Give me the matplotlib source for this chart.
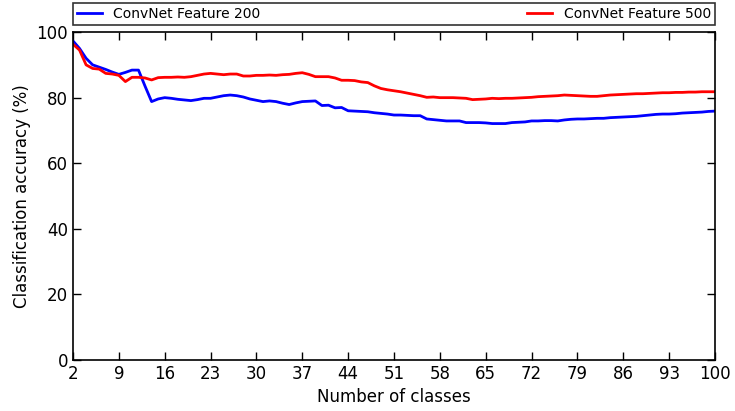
import matplotlib
matplotlib.use("Agg")
from matplotlib import pyplot as plt
import numpy as np

classes = list(range(2, 101))

# ConvNet Feature 200 accuracy (%)
acc_200 = [97.3, 95.0, 92.0, 90.0, 89.3, 88.6, 87.8, 87.1, 87.7, 88.4,
           88.4, 83.5, 78.8, 79.6, 80.0, 79.8, 79.5, 79.3, 79.1, 79.4,
           79.8, 79.8, 80.2, 80.6, 80.8, 80.6, 80.2, 79.6, 79.2, 78.8,
           79.0, 78.8, 78.3, 77.9, 78.4, 78.8, 78.9, 79.0, 77.6, 77.7,
           76.9, 77.0, 76.0, 75.9, 75.8, 75.7, 75.4, 75.2, 75.0, 74.7,
           74.7, 74.6, 74.5, 74.5, 73.5, 73.3, 73.1, 72.9, 72.9, 72.9,
           72.4, 72.4, 72.4, 72.3, 72.1, 72.1, 72.1, 72.4, 72.5, 72.6,
           72.9, 72.9, 73.0, 73.0, 72.9, 73.2, 73.4, 73.5, 73.5, 73.6,
           73.7, 73.7, 73.9, 74.0, 74.1, 74.2, 74.3, 74.5, 74.7, 74.9,
           75.0, 75.0, 75.1, 75.3, 75.4, 75.5, 75.6, 75.8, 75.9]

# ConvNet Feature 500 accuracy (%)
acc_500 = [96.3, 94.5, 90.0, 88.9, 88.7, 87.4, 87.2, 86.8, 84.9, 86.2,
           86.2, 86.0, 85.4, 86.1, 86.2, 86.2, 86.3, 86.2, 86.4, 86.8,
           87.2, 87.4, 87.2, 87.0, 87.2, 87.2, 86.6, 86.6, 86.8, 86.8,
           86.9, 86.8, 87.0, 87.1, 87.4, 87.6, 87.1, 86.4, 86.4, 86.4,
           86.0, 85.3, 85.3, 85.2, 84.8, 84.6, 83.6, 82.8, 82.4, 82.1,
           81.8, 81.4, 81.0, 80.6, 80.1, 80.2, 80.0, 80.0, 80.0, 79.9,
           79.8, 79.4, 79.5, 79.6, 79.8, 79.7, 79.8, 79.8, 79.9, 80.0,
           80.1, 80.3, 80.4, 80.5, 80.6, 80.8, 80.7, 80.6, 80.5, 80.4,
           80.4, 80.6, 80.8, 80.9, 81.0, 81.1, 81.2, 81.2, 81.3, 81.4,
           81.5, 81.5, 81.6, 81.6, 81.7, 81.7, 81.8, 81.8, 81.8]

x_ticks = list(range(2, 101, 7))

plt.rcParams['xtick.direction'] = 'in'
plt.rcParams['ytick.direction'] = 'in'
plt.rcParams['xtick.top'] = True
plt.rcParams['ytick.right'] = True

fig = plt.figure(figsize=(7.35, 4.11), dpi=100)
ax = fig.add_axes([0.0993, 0.124, 0.8735, 0.798])

ax.plot(classes, acc_200, color='blue', lw=2, label='ConvNet Feature 200')
ax.plot(classes, acc_500, color='red', lw=2, label='ConvNet Feature 500')

ax.set_xlim(2, 100)
ax.set_ylim(0, 100)
ax.set_xticks(x_ticks)
ax.set_yticks(range(0, 101, 20))
ax.tick_params(labelsize=12, length=6, width=1)
ax.set_xlabel("Number of classes", fontsize=12)
ax.set_ylabel("Classification accuracy (%)", fontsize=12)
for s in ax.spines.values():
    s.set_linewidth(1.2)

leg = ax.legend(bbox_to_anchor=(0., 1.022, 1., .066), loc=3, ncol=2,
                mode="expand", borderaxespad=0., fontsize=10, fancybox=False,
                handlelength=1.8, borderpad=0.3)
leg.get_frame().set_edgecolor('black')
leg.get_frame().set_linewidth(1.2)

fig.savefig("out.png", dpi=100)
